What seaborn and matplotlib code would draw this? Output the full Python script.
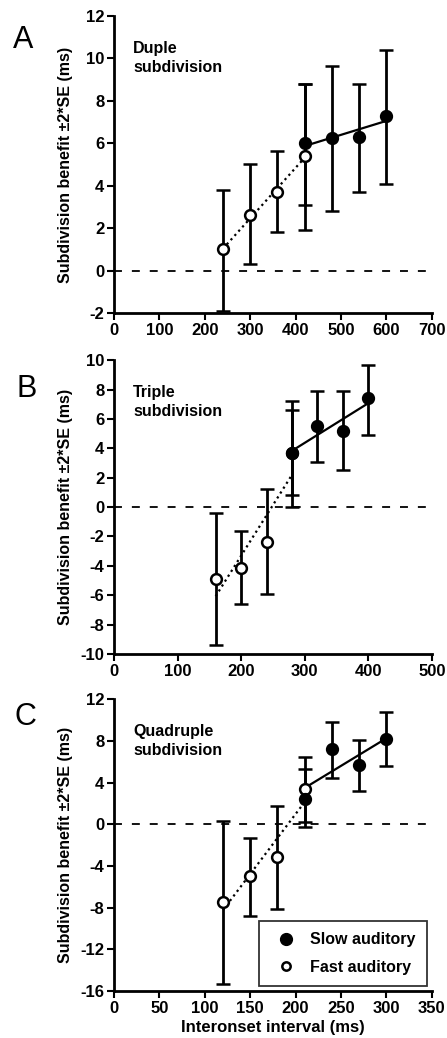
import numpy as np
import pandas as pd
import seaborn as sns
import matplotlib.pyplot as plt
from matplotlib.lines import Line2D

sns.set_style("ticks")
plt.rcParams['font.family'] = ['Liberation Sans', 'DejaVu Sans']
plt.rcParams.update({"text.color": "black", "axes.labelcolor": "black",
                     "xtick.color": "black", "ytick.color": "black",
                     "axes.edgecolor": "black", "axes.unicode_minus": False})

# Panel A - duple subdivision
a_fast_x = [240, 300, 360, 420]
a_fast_y = [1.0, 2.6, 3.7, 5.4]
a_fast_lo = [-1.9, 0.3, 1.8, 1.9]
a_fast_hi = [3.8, 5.0, 5.65, 8.8]
a_slow_x = [420, 480, 540, 600]
a_slow_y = [6.0, 6.25, 6.3, 7.3]
a_slow_lo = [3.1, 2.8, 3.7, 4.1]
a_slow_hi = [8.8, 9.65, 8.8, 10.4]

# Panel B - triple subdivision
b_fast_x = [160, 200, 240, 280]
b_fast_y = [-4.9, -4.15, -2.4, 3.7]
b_fast_lo = [-9.4, -6.6, -5.9, 0.85]
b_fast_hi = [-0.4, -1.6, 1.2, 6.6]
b_slow_x = [280, 320, 360, 400]
b_slow_y = [3.7, 5.5, 5.2, 7.4]
b_slow_lo = [0.0, 3.1, 2.5, 4.9]
b_slow_hi = [7.2, 7.9, 7.9, 9.7]

# Panel C - quadruple subdivision
c_fast_x = [120, 150, 180, 210]
c_fast_y = [-7.5, -5.0, -3.1, 3.4]
c_fast_lo = [-15.3, -8.8, -8.1, 0.2]
c_fast_hi = [0.3, -1.3, 1.8, 6.5]
c_slow_x = [210, 240, 270, 300]
c_slow_y = [2.4, 7.2, 5.7, 8.2]
c_slow_lo = [-0.3, 4.4, 3.2, 5.6]
c_slow_hi = [5.3, 9.8, 8.1, 10.8]

panels = [
    dict(letter="A", text="Duple\nsubdivision", xmax=700, xstep=100, ymin=-2, ymax=12, ystep=2,
         fast=(a_fast_x, a_fast_y, a_fast_lo, a_fast_hi),
         slow=(a_slow_x, a_slow_y, a_slow_lo, a_slow_hi),
         rect=[0.255, 0.6985, 0.711, 0.2861], lpos=(23, 40)),
    dict(letter="B", text="Triple\nsubdivision", xmax=500, xstep=100, ymin=-10, ymax=10, ystep=2,
         fast=(b_fast_x, b_fast_y, b_fast_lo, b_fast_hi),
         slow=(b_slow_x, b_slow_y, b_slow_lo, b_slow_hi),
         rect=[0.255, 0.370, 0.711, 0.283], lpos=(27, 389)),
    dict(letter="C", text="Quadruple\nsubdivision", xmax=350, xstep=50, ymin=-16, ymax=12, ystep=4,
         fast=(c_fast_x, c_fast_y, c_fast_lo, c_fast_hi),
         slow=(c_slow_x, c_slow_y, c_slow_lo, c_slow_hi),
         rect=[0.255, 0.0453, 0.711, 0.281], lpos=(25, 717)),
]

fig = plt.figure(figsize=(4.47, 10.38), dpi=100)

for p in panels:
    ax = fig.add_axes(p["rect"])
    ax.axhline(0, color="black", lw=1.3, ls=(0, (4.4, 5.5)), zorder=1)

    for key, filled, ls in [("fast", False, (0, (1, 1.6))), ("slow", True, "-")]:
        x, y, lo, hi = p[key]
        df = pd.DataFrame({"x": x, "y": y})
        sns.regplot(data=df, x="x", y="y", ax=ax, scatter=False, ci=None,
                    line_kws=dict(color="black", lw=1.6, ls=ls, zorder=2))
        yerr = [np.array(y) - np.array(lo), np.array(hi) - np.array(y)]
        ax.errorbar(x, y, yerr=yerr, fmt="none", ecolor="black", elinewidth=2,
                    capsize=5, capthick=1.8, zorder=3)
        ax.scatter(x, y, s=60, facecolor="black" if filled else "white",
                   edgecolor="black", linewidth=1.8, zorder=5 if filled else 4)

    ax.set_xlim(0, p["xmax"])
    ax.set_ylim(p["ymin"], p["ymax"])
    ax.set_xticks(np.arange(0, p["xmax"] + 1, p["xstep"]))
    ax.set_yticks(np.arange(p["ymin"], p["ymax"] + 1, p["ystep"]))
    for s in ["top", "right"]:
        ax.spines[s].set_visible(False)
    for s in ["left", "bottom"]:
        ax.spines[s].set_linewidth(2)
    ax.tick_params(direction="out", length=5, width=1.5, labelsize=12, pad=2)
    for lab in ax.get_xticklabels() + ax.get_yticklabels():
        lab.set_fontweight("bold")
    ax.set_xlabel("")
    ax.set_ylabel("Subdivision benefit \u00b12*SE (ms)", fontsize=11.5, fontweight="bold")
    ax.yaxis.set_label_coords(-0.13, 0.5)
    ax.text(0.06, 0.915, p["text"], transform=ax.transAxes, ha="left", va="top",
            fontsize=11.5, fontweight="bold", linespacing=1.3)
    fig.text(p["lpos"][0] / 447, 1 - p["lpos"][1] / 1038, p["letter"], fontsize=22,
             ha="center", va="center")

ax.set_xlabel("Interonset interval (ms)", fontsize=12, fontweight="bold", labelpad=3)
handles = [
    Line2D([], [], marker="o", ls="none", markerfacecolor="black", markeredgecolor="black",
           markersize=8.5, label="Slow auditory"),
    Line2D([], [], marker="o", ls="none", markerfacecolor="white", markeredgecolor="black",
           markeredgewidth=1.8, markersize=6, label="Fast auditory"),
]
leg = ax.legend(handles=handles, loc="lower right", frameon=True, fancybox=False,
                edgecolor="black", prop=dict(size=11.5, weight="bold"),
                borderaxespad=0.3, handletextpad=0.5, labelspacing=0.8, borderpad=0.7)
leg.get_frame().set_linewidth(1.3)

fig.savefig("out.png", dpi=100)
